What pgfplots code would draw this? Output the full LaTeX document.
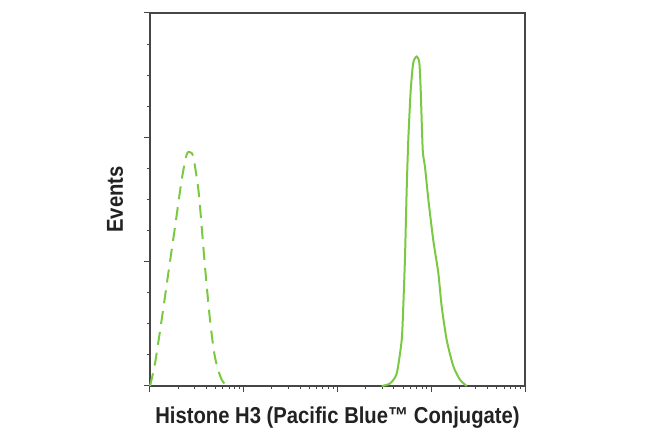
\documentclass[border=0pt]{standalone}
\usepackage{pgfplots}
\pgfplotsset{compat=1.18}
\usepackage{fontspec}
\setmainfont{Liberation Sans}
\newfontfamily\labfont[FakeStretch=0.88]{Liberation Sans}

\definecolor{flowgreen}{RGB}{122,201,64}
\definecolor{axisgray}{RGB}{70,70,70}
\definecolor{textgray}{RGB}{34,34,34}

\begin{document}
\begin{tikzpicture}
\begin{axis}[
name=ax,
at={(0,0)}, anchor=south west,
scale only axis,
width=375pt, height=373pt,
xmode=log, log basis x={10},
xmin=1, xmax=10000,
ymin=0, ymax=3,
xtick={1,10,100,1000,10000},
minor xtick={2,3,4,5,6,7,8,9,20,30,40,50,60,70,80,90,200,300,400,500,600,700,800,900,2000,3000,4000,5000,6000,7000,8000,9000},
ytick={0,1,2,3},
minor y tick num=3,
xticklabels={}, yticklabels={},
tick align=outside,
tick pos=left,
major tick length=6pt,
minor tick length=3.5pt,
axis line style={axisgray, line width=1.3pt},
every tick/.style={axisgray, line width=1pt},
clip=false,
]
% isotype control (dashed)
\addplot [flowgreen, line width=2pt, dash pattern=on 13pt off 8pt, smooth, tension=0.5]
table {%
1.00 0.00
1.13 0.18
1.33 0.53
1.57 0.91
1.85 1.28
2.18 1.66
2.46 1.86
2.67 1.88
2.90 1.84
3.28 1.58
3.56 1.28
3.86 0.96
4.37 0.53
4.94 0.23
5.82 0.05
6.79 0.00
};
% Histone H3 stained (solid)
\addplot [flowgreen, line width=2pt, smooth, tension=0.4]
table {%
296 0.00
363 0.02
428 0.10
484 0.37
503 0.64
525 1.04
547 1.58
569 1.98
604 2.38
643 2.60
700 2.65
746 2.60
772 2.38
811 1.90
858 1.76
931 1.50
1052 1.17
1189 0.91
1292 0.64
1462 0.37
1718 0.16
2027 0.05
2388 0.00
};
\end{axis}
\node[anchor=base, text=textgray, font={\labfont\bfseries\fontsize{23}{27}\selectfont}]
  at ([yshift=-38pt]ax.south) {Histone H3 (Pacific Blue™ Conjugate)};
\node[anchor=base, rotate=90, text=textgray, font={\labfont\bfseries\fontsize{23}{27}\selectfont}]
  at ([xshift=-27pt]ax.west) {Events};
\pgfresetboundingbox
\useasboundingbox ([shift={(-150pt,-52pt)}]ax.south west) rectangle ([shift={(500pt,386pt)}]ax.south west);
\end{tikzpicture}
\end{document}
